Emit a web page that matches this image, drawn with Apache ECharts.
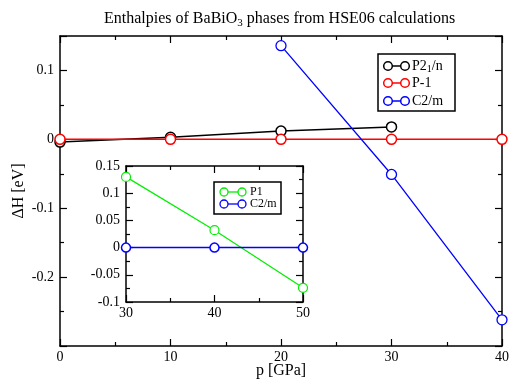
<!DOCTYPE html>
<html><head><meta charset="utf-8">
<script src="https://cdn.jsdelivr.net/npm/echarts@6/dist/echarts.min.js"></script>
<style>html,body{margin:0;padding:0;background:#fff}#c{width:509px;height:381px}</style>
</head><body><div id="c"></div>
<script>
// ---- data ----
const pressureP21n = [0, 10, 20, 30];
const enthalpyP21n = [-0.004, 0.003, 0.012, 0.018];
const pressureP1bar = [0, 10, 20, 30, 40];
const enthalpyP1bar = [0, 0, 0, 0, 0];
const pressureC2m = [20, 30, 40];
const enthalpyC2m = [0.136, -0.051, -0.262];
const insetPressure = [30, 40, 50];
const insetP1 = [0.13, 0.032, -0.074];
const insetC2m = [0, 0, 0];
const mainXTicks = [0, 10, 20, 30, 40];
const mainYTicks = [-0.2, -0.1, 0, 0.1];
const insetXTicks = [30, 40, 50];
const insetYTicks = [-0.1, -0.05, 0, 0.05, 0.1, 0.15];

const FONT = 'Liberation Serif';
const zip = (xs, ys) => xs.map((x, i) => [x, ys[i]]);
const fmt = v => Math.abs(v) < 1e-9 ? '0' : String(+v.toFixed(3));

function axisX(gridIndex, min, max, interval, showLabel, pos, name, ticks) {
  return {
    type: 'value', gridIndex, min, max, interval, position: pos,
    axisLine: {show: true, onZero: false, lineStyle: {color: '#000', width: 1.5}},
    axisTick: {show: true, inside: true, length: 7, lineStyle: {color: '#000', width: 1.2}},
    minorTick: {show: true, splitNumber: 2, length: 4, lineStyle: {color: '#000', width: 1.2}},
    splitLine: {show: false},
    axisLabel: {show: showLabel, color: '#000', fontFamily: FONT, fontSize: 14, margin: 4,
      formatter: v => ticks && ticks.some(t => Math.abs(t - v) < 1e-9) ? fmt(v) : ''},
    name: name || '', nameLocation: 'middle', nameGap: 17, nameMoveOverlap: false,
    nameTextStyle: {color: '#000', fontFamily: FONT, fontSize: 16}
  };
}
function axisY(gridIndex, min, max, interval, showLabel, pos, name, ticks) {
  const a = axisX(gridIndex, min, max, interval, showLabel, pos, name, ticks);
  a.axisLabel.margin = 6;
  a.nameGap = 33;
  return a;
}

const chart = echarts.init(document.getElementById('c'), null, {renderer: 'canvas'});

const legendMain = [
  {y: 66, color: '#000', text: '{a|P2}{s|1}{a|/n}'},
  {y: 83, color: '#ff0000', text: '{a|P-1}'},
  {y: 101, color: '#0000ff', text: '{a|C2/m}'}
];
const legendInset = [
  {y: 192, color: '#00ee00', text: 'P1'},
  {y: 204, color: '#0000ff', text: 'C2/m'}
];
const graphics = [
  {type: 'rect', shape: {x: 378, y: 54, width: 77, height: 57}, style: {fill: '#fff', stroke: '#000', lineWidth: 1.5}, z: 10}
];
legendMain.forEach(e => {
  graphics.push({type: 'line', shape: {x1: 388, y1: e.y, x2: 405, y2: e.y}, style: {stroke: e.color, lineWidth: 1.5}, z: 11});
  graphics.push({type: 'circle', shape: {cx: 388, cy: e.y, r: 4.3}, style: {fill: '#fff', stroke: e.color, lineWidth: 1.5}, z: 12});
  graphics.push({type: 'circle', shape: {cx: 405, cy: e.y, r: 4.3}, style: {fill: '#fff', stroke: e.color, lineWidth: 1.5}, z: 12});
  graphics.push({type: 'text', x: 412, y: e.y, style: {text: e.text, verticalAlign: 'middle', fill: '#000',
    rich: {a: {fontFamily: FONT, fontSize: 14, lineHeight: 16, verticalAlign: 'middle'},
           s: {fontFamily: FONT, fontSize: 10, lineHeight: 16, verticalAlign: 'bottom', padding: [7, 0, 0, 0]}}}, z: 12});
});
graphics.push({type: 'rect', shape: {x: 214, y: 182, width: 67, height: 32}, style: {fill: '#fff', stroke: '#000', lineWidth: 1.5}, z: 10});
legendInset.forEach(e => {
  graphics.push({type: 'line', shape: {x1: 224, y1: e.y, x2: 242, y2: e.y}, style: {stroke: e.color, lineWidth: 1.3}, z: 11});
  graphics.push({type: 'circle', shape: {cx: 224, cy: e.y, r: 4}, style: {fill: '#fff', stroke: e.color, lineWidth: 1.3}, z: 12});
  graphics.push({type: 'circle', shape: {cx: 242, cy: e.y, r: 4}, style: {fill: '#fff', stroke: e.color, lineWidth: 1.3}, z: 12});
  graphics.push({type: 'text', x: 250, y: e.y, style: {text: e.text, verticalAlign: 'middle', fill: '#000', fontFamily: FONT, fontSize: 12}, z: 12});
});

function lineSeries(x, y, color, xi, yi, size, w, z) {
  return {
    type: 'line', data: zip(x, y), xAxisIndex: xi, yAxisIndex: yi,
    symbol: 'circle', symbolSize: size, showSymbol: true, clip: false, z: z || 2,
    lineStyle: {color, width: w},
    itemStyle: {color: '#fff', borderColor: color, borderWidth: w},
    emphasis: {disabled: true}, animation: false
  };
}

chart.setOption({
  animation: false,
  backgroundColor: '#fff',
  title: {
    text: '{a|Enthalpies of BaBiO}{s|3}{a| phases from HSE06 calculations}',
    left: 99, top: 4,
    textStyle: {fontWeight: 'normal', rich: {
      a: {fontFamily: FONT, fontSize: 16, fontWeight: 'normal', color: '#000', lineHeight: 20, verticalAlign: 'middle'},
      s: {fontFamily: FONT, fontSize: 11, fontWeight: 'normal', color: '#000', lineHeight: 20, verticalAlign: 'bottom', padding: [9, 0, 0, 0]}
    }}
  },
  grid: [
    {left: 60, top: 36, right: 7, bottom: 35, containLabel: false, outerBoundsMode: 'none'},
    {left: 126, top: 166, width: 177, height: 136, show: true, backgroundColor: '#fff', borderWidth: 0, z: 5, outerBoundsMode: 'none'}
  ],
  xAxis: [
    axisX(0, 0, 40, 10, true, 'bottom', 'p [GPa]', mainXTicks),
    axisX(0, 0, 40, 10, false, 'top'),
    Object.assign(axisX(1, 30, 50, 10, true, 'bottom', '', insetXTicks), {z: 6}),
    Object.assign(axisX(1, 30, 50, 10, false, 'top'), {z: 6})
  ],
  yAxis: [
    axisY(0, -0.3, 0.15, 0.1, true, 'left', 'ΔH [eV]', mainYTicks),
    axisY(0, -0.3, 0.15, 0.1, false, 'right'),
    Object.assign(axisY(1, -0.1, 0.15, 0.05, true, 'left', '', insetYTicks), {z: 6}),
    Object.assign(axisY(1, -0.1, 0.15, 0.05, false, 'right'), {z: 6})
  ],
  series: [
    lineSeries(pressureP21n, enthalpyP21n, '#000', 0, 0, 10, 1.5, 2),
    lineSeries(pressureP1bar, enthalpyP1bar, '#ff0000', 0, 0, 10, 1.5, 2),
    lineSeries(pressureC2m, enthalpyC2m, '#0000ff', 0, 0, 10, 1.3, 2),
    lineSeries(insetPressure, insetP1, '#00ee00', 2, 2, 9, 1.2, 7),
    lineSeries(insetPressure, insetC2m, '#0000ff', 2, 2, 9, 1.5, 7)
  ],
  graphic: graphics
});
</script>
</body></html>
